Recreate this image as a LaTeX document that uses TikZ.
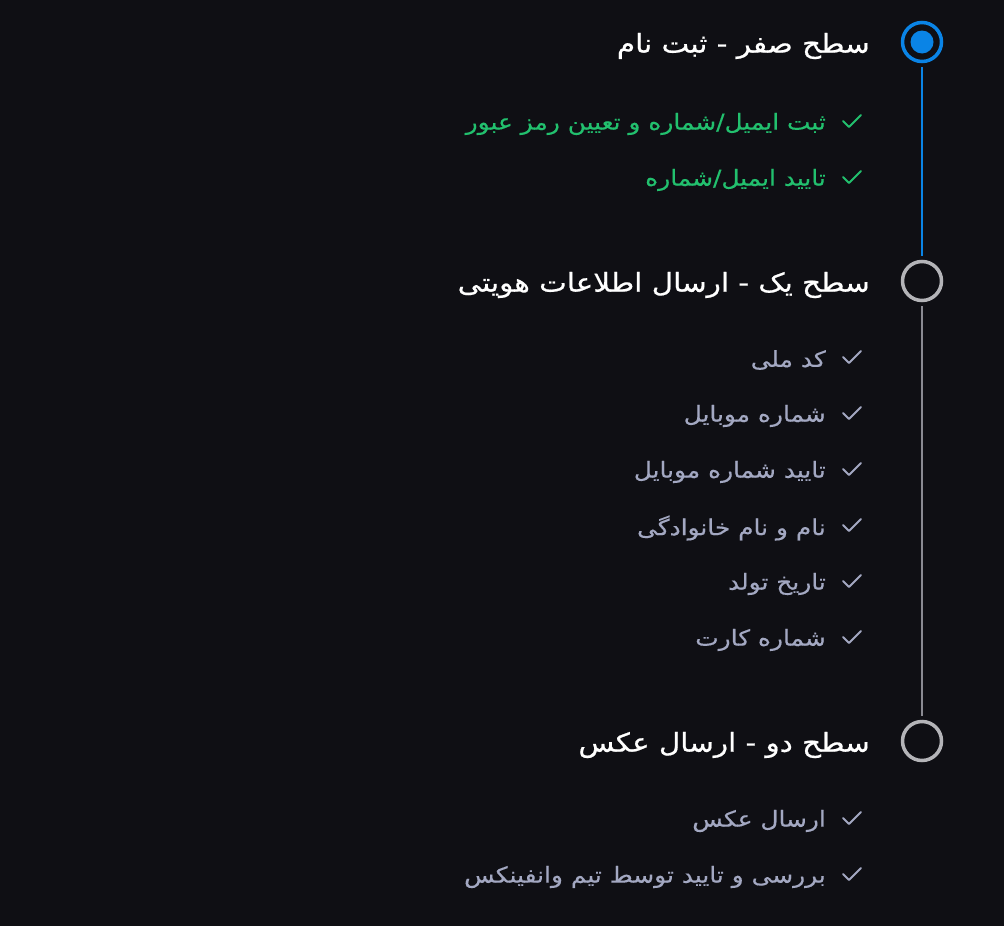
\documentclass[tikz,border=0pt]{standalone}
\usepackage{fontspec}
\newfontfamily\arabicfont[Script=Arabic,FakeStretch=1.13,FakeBold=0.4]{DejaVu Sans}
\newfontfamily\arabictitle[Script=Arabic,FakeStretch=1.13,FakeBold=0.7]{DejaVu Sans}
\TeXXeTstate=1
\definecolor{bgc}{HTML}{0F0F14}
\definecolor{bluec}{HTML}{0A84E6}
\definecolor{grayring}{HTML}{B4B4B8}
\definecolor{greentxt}{HTML}{22C06E}
\definecolor{graytxt}{HTML}{A3A8C2}
\definecolor{grayline}{HTML}{8A8A92}
\begin{document}
\begin{tikzpicture}[x=1pt,y=-1pt,
  ring/.style={circle,draw,line width=3.5pt,minimum size=39pt,inner sep=0pt},
  title/.style={anchor=east,text=white,font=\arabictitle\fontsize{26}{30}\selectfont,inner sep=0pt},
  itemtxt/.style={anchor=east,font=\arabicfont\fontsize{22}{26}\selectfont,inner sep=0pt},
  tick/.style={line width=1.8pt,line cap=round,line join=round}]
\fill[bgc] (0,0) rectangle (1004,926);
\useasboundingbox (0,0) rectangle (1004,926);
% circles
\node[ring,draw=bluec] (c0) at (922,42) {};
\fill[bluec] (c0.center) circle (11.5);
\node[ring,draw=grayring] (c1) at (922,281) {};
\node[ring,draw=grayring] (c2) at (922,741) {};
\draw[bluec,line width=2pt,shorten <=4pt,shorten >=4pt] (c0.south) -- (c1.north);
\draw[grayline,line width=2pt,shorten <=4pt,shorten >=4pt] (c1.south) -- (c2.north);
% titles
\node[title] (t0) at (870,46) {\beginR سطح صفر - ثبت نام\endR};
\node[title] (t1) at (870,285) {\beginR سطح یک - ارسال اطلاعات هویتی\endR};
\node[title] (t2) at (870,745) {\beginR سطح دو - ارسال عکس\endR};
% items
\foreach \y/\txt/\col [count=\i] in {
  121/{ثبت ایمیل/شماره و تعیین رمز عبور}/greentxt,
  177/{تایید ایمیل/شماره}/greentxt,
  357/{کد ملی}/graytxt,
  413/{شماره موبایل}/graytxt,
  469/{تایید شماره موبایل}/graytxt,
  525/{نام و نام خانوادگی}/graytxt,
  581/{تاریخ تولد}/graytxt,
  637/{شماره کارت}/graytxt,
  818/{ارسال عکس}/graytxt,
  874/{بررسی و تایید توسط تیم وانفینکس}/graytxt}{
  \node[itemtxt,text=\col] (i\i) at (826,\y+3) {\beginR\txt\endR};
  \draw[tick,\col] (843,\y) -- (849,\y+6) -- (861,\y-6);
}
\end{tikzpicture}
\end{document}
